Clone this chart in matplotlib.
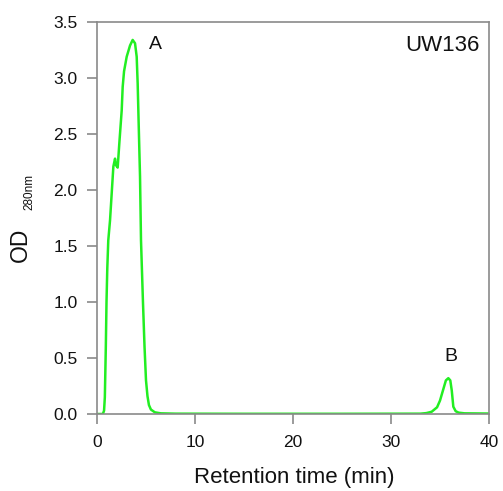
import numpy as np
import matplotlib
matplotlib.use("Agg")
from matplotlib import pyplot as plt

plt.rcParams['font.family'] = ['Liberation Sans', 'DejaVu Sans']

# chromatogram (time in min, OD)
time_min = [0.0, 0.6, 0.72, 0.8, 0.9, 0.97, 1.05, 1.15, 1.33, 1.5, 1.67, 1.84, 1.95,
            2.11, 2.28, 2.52, 2.62, 2.76, 3.03, 3.37, 3.64, 3.88, 4.05, 4.15, 4.25,
            4.39, 4.49, 4.69, 4.85, 5.0, 5.15, 5.3, 5.5, 5.9, 6.5, 8.0, 15.0, 25.0,
            33.0, 33.6, 34.15, 34.7, 35.0, 35.3, 35.6, 35.85, 36.05, 36.2, 36.36,
            36.6, 36.9, 37.5, 40.0]
od_280 = [0.0, 0.0, 0.03, 0.15, 0.6, 1.0, 1.3, 1.55, 1.73, 1.97, 2.21, 2.28, 2.22,
          2.20, 2.42, 2.71, 2.92, 3.06, 3.19, 3.29, 3.34, 3.31, 3.19, 2.95, 2.6,
          2.12, 1.55, 1.0, 0.6, 0.3, 0.16, 0.08, 0.04, 0.015, 0.006, 0.003, 0.002,
          0.002, 0.003, 0.008, 0.02, 0.06, 0.12, 0.21, 0.3, 0.32, 0.3, 0.21, 0.065,
          0.025, 0.012, 0.006, 0.004]

peak_labels = ['A', 'B']
peak_pos = [(6.0, 3.3), (36.1, 0.51)]
sample_name = 'UW136'

W, H = 503, 491
fig = plt.figure(figsize=(W / 100, H / 100), dpi=100)
ax = fig.add_axes([97 / W, 77 / H, 392 / W, 392 / H])

ax.plot(time_min, od_280, color='#22ee22', lw=1.8)

for lab, (x, y) in zip(peak_labels, peak_pos):
    ax.text(x, y, lab, fontsize=14, ha='center', va='center', color='#111111')
ax.text(0.977, 0.939, sample_name, transform=ax.transAxes, fontsize=16,
        ha='right', va='center', color='#111111')

ax.set_xlim(0, 40)
ax.set_ylim(0, 3.5)
ax.set_xticks([0, 10, 20, 30, 40])
ax.set_yticks(np.arange(0, 3.51, 0.5))
ax.set_yticklabels(['%.1f' % v for v in np.arange(0, 3.51, 0.5)])

for sp in ax.spines.values():
    sp.set_color('#8a8a8a')
    sp.set_linewidth(1.2)
ax.tick_params(direction='out', length=7, width=1.2, color='#8a8a8a',
               labelsize=12.5, labelcolor='#111111')
ax.tick_params(axis='x', pad=8)
ax.tick_params(axis='y', pad=7)

# axis titles placed by pixel position
fig.text(294 / W, 1 - 478 / H, 'Retention time (min)', fontsize=16,
         ha='center', va='center', color='#111111')
fig.text(20 / W, 1 - 245 / H, 'OD', fontsize=16.5, rotation=90,
         ha='center', va='center', color='#111111')
fig.text(29 / W, 1 - 192 / H, '280nm', fontsize=8.5, rotation=90,
         ha='center', va='center', color='#111111')

fig.savefig('out.png', dpi=100)
